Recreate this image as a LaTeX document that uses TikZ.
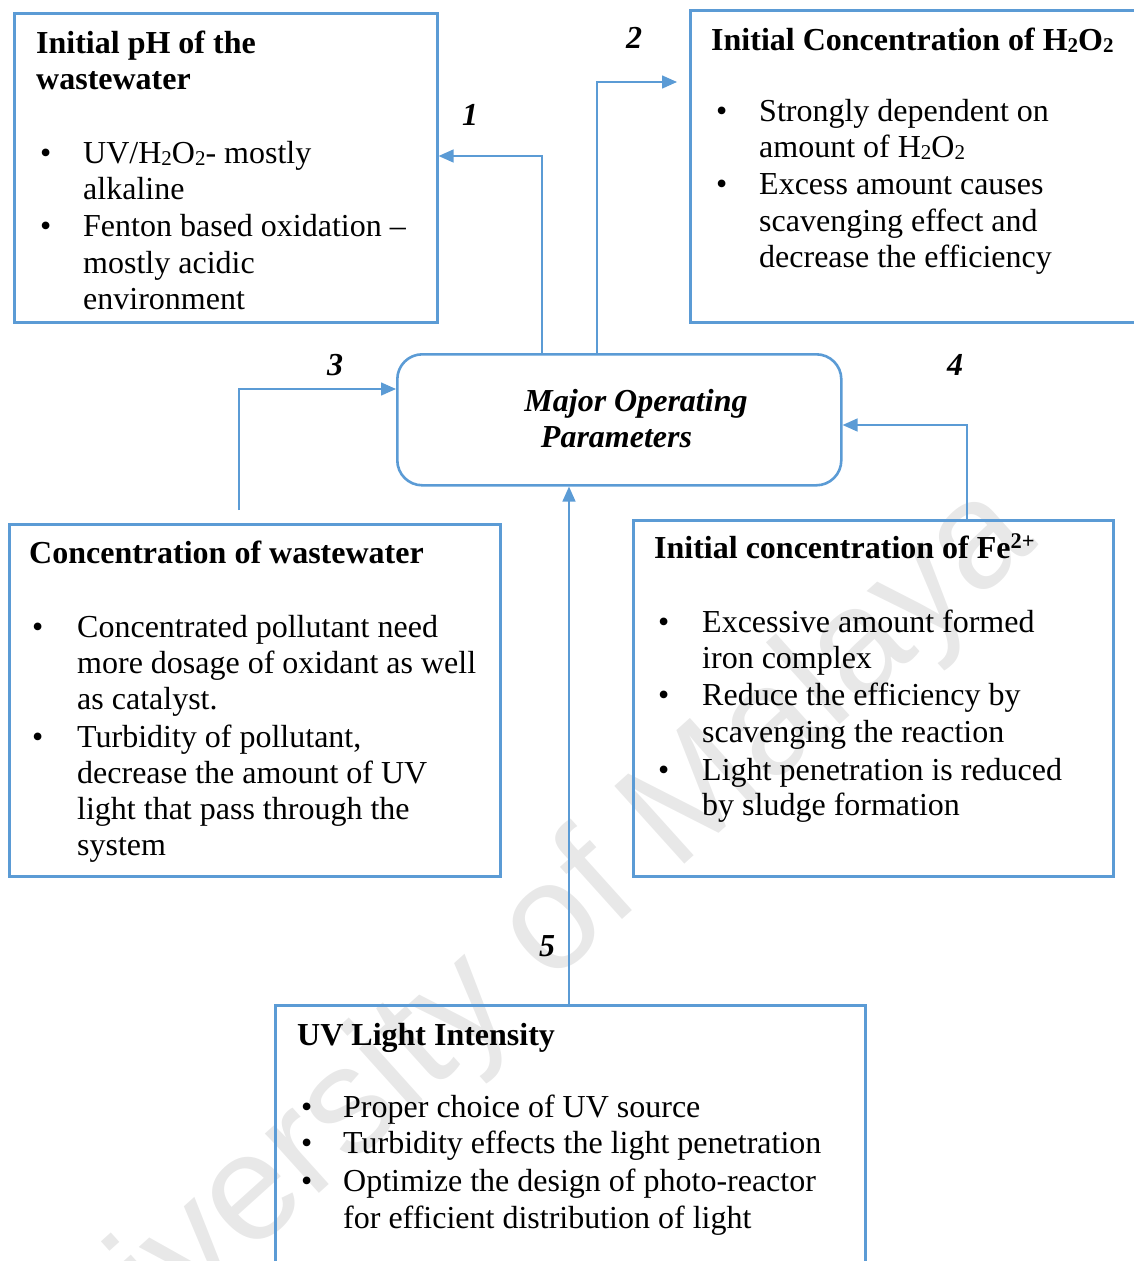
\documentclass[tikz,border=0pt]{standalone}
\usepackage{fontspec}
\setmainfont{Liberation Serif}
\newfontfamily\wmfont{Liberation Sans}
\usetikzlibrary{arrows.meta}
\definecolor{edge}{RGB}{91,155,213}
% small, slightly lowered index as in the chemical formulas
\newcommand\chemidx[1]{\raisebox{-2.5pt}{\fontsize{21}{21}\selectfont #1}}

\begin{document}
\begin{tikzpicture}[x=1pt,y=-1pt,
  box/.style={draw=edge, line width=2.6pt, inner sep=0pt, anchor=north west},
  conn/.style={draw=edge, line width=1.5pt, -{Triangle[length=15pt,width=13pt]}},
  txt/.style={anchor=base west, inner sep=0pt, font=\fontsize{32}{37}\selectfont},
  head/.style={anchor=base west, inner sep=0pt, font=\fontsize{32}{37}\selectfont\bfseries},
  num/.style={anchor=base, inner sep=0pt, font=\fontsize{32}{37}\selectfont\bfseries\itshape},
]
\useasboundingbox (0,0) rectangle (1133,1261);

% watermark
\node[rotate=42, text=black!9, inner sep=0pt,
      font=\wmfont\fontsize{152}{152}\selectfont] (wm) at (505,973) {University of Malaya};

% boxes
\node[box, minimum width=423pt, minimum height=309pt] (ph) at (13,12) {};
\node[box, minimum width=460pt, minimum height=312pt] (hb) at (689,9) {};
\node[box, minimum width=444pt, minimum height=131pt, rounded corners=25pt] (mop) at (396,353) {};
\node[box, minimum width=491pt, minimum height=352pt] (cw) at (8,523) {};
\node[box, minimum width=480pt, minimum height=356pt] (fe) at (632,519) {};
\node[box, minimum width=590pt, minimum height=300pt] (uv) at (274,1004) {};

% central text
\node[num] (mopa) at (636,411) {Major Operating};
\node[num] (mopb) at (616.5,447) {Parameters};

% pH box
\node[head] (pht1) at (36,53) {Initial pH of the};
\node[head] (pht2) at (36,89) {wastewater};
\node[txt] (phb1) at (40,163) {\textbullet};
\node[txt] (phb2) at (40,236) {\textbullet};
\node[txt] (phl1) at (83,163) {UV/H\chemidx{2}O\chemidx{2}- mostly};
\node[txt] (phl2) at (83,199) {alkaline};
\node[txt] (phl3) at (83,236) {Fenton based oxidation \textendash};
\node[txt] (phl4) at (83,273) {mostly acidic};
\node[txt] (phl5) at (83,309) {environment};

% H2O2 box
\node[head] (hbt) at (711,50) {Initial Concentration of H\chemidx{2}O\chemidx{2}};
\node[txt] (hbb1) at (716,121) {\textbullet};
\node[txt] (hbb2) at (716,194) {\textbullet};
\node[txt] (hbl1) at (759,121) {Strongly dependent on};
\node[txt] (hbl2) at (759,157) {amount of H\chemidx{2}O\chemidx{2}};
\node[txt] (hbl3) at (759,194) {Excess amount causes};
\node[txt] (hbl4) at (759,231) {scavenging effect and};
\node[txt] (hbl5) at (759,267) {decrease the efficiency};

% wastewater concentration box
\node[head] (cwt) at (29,563) {Concentration of wastewater};
\node[txt] (cwb1) at (32,637) {\textbullet};
\node[txt] (cwb2) at (32,747) {\textbullet};
\node[txt] (cwl1) at (77,637) {Concentrated pollutant need};
\node[txt] (cwl2) at (77,673) {more dosage of oxidant as well};
\node[txt] (cwl3) at (77,709) {as catalyst.};
\node[txt] (cwl4) at (77,747) {Turbidity of pollutant,};
\node[txt] (cwl5) at (77,783) {decrease the amount of UV};
\node[txt] (cwl6) at (77,819) {light that pass through the};
\node[txt] (cwl7) at (77,855) {system};

% Fe box
\node[head] (fet) at (654,558) {Initial concentration of Fe\textsuperscript{2+}};
\node[txt] (feb1) at (658,632) {\textbullet};
\node[txt] (feb2) at (658,705) {\textbullet};
\node[txt] (feb3) at (658,780) {\textbullet};
\node[txt] (fel1) at (702,632) {Excessive amount formed};
\node[txt] (fel2) at (702,668) {iron complex};
\node[txt] (fel3) at (702,705) {Reduce the efficiency by};
\node[txt] (fel4) at (702,742) {scavenging the reaction};
\node[txt] (fel5) at (702,780) {Light penetration is reduced};
\node[txt] (fel6) at (702,815) {by sludge formation};

% UV box
\node[head] (uvt) at (297,1045) {UV Light Intensity};
\node[txt] (uvb1) at (301,1117) {\textbullet};
\node[txt] (uvb2) at (301,1153) {\textbullet};
\node[txt] (uvb3) at (301,1191) {\textbullet};
\node[txt] (uvl1) at (343,1117) {Proper choice of UV source};
\node[txt] (uvl2) at (343,1153) {Turbidity effects the light penetration};
\node[txt] (uvl3) at (343,1191) {Optimize the design of photo-reactor};
\node[txt] (uvl4) at (343,1228) {for efficient distribution of light};

% connector numbers
\node[num] (n1) at (470,125) {1};
\node[num] (n2) at (634,48) {2};
\node[num] (n3) at (335,375) {3};
\node[num] (n4) at (955,375) {4};
\node[num] (n5) at (547,956) {5};

% connectors
\coordinate (k1) at (542,156);
\coordinate (k2) at (597,82);
\coordinate (s3) at (239,510);
\coordinate (k3) at (239,389);
\coordinate (k4) at (967,425);
\coordinate (k5) at (569,1004);
\draw[conn] (mop.north -| k1) -- (k1) -- (ph.east |- k1);
\draw[conn, shorten >=12pt] (mop.north -| k2) -- (k2) -- (hb.west |- k2);
\draw[conn] (s3) -- (k3) -- (mop.west |- k3);
\draw[conn] (fe.north -| k4) -- (k4) -- (mop.east |- k4);
\draw[conn] (uv.north -| k5) -- (mop.south -| k5);
\end{tikzpicture}
\end{document}
